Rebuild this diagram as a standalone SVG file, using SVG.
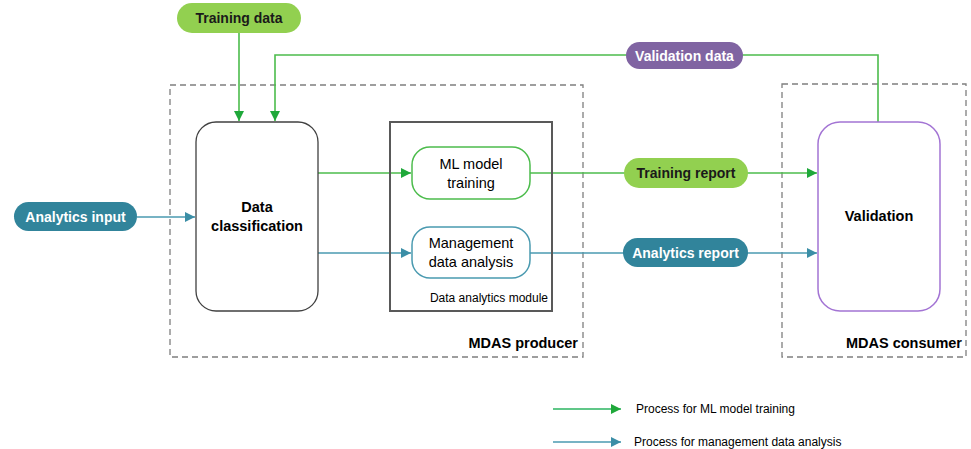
<svg xmlns="http://www.w3.org/2000/svg" width="971" height="449" viewBox="0 0 971 449">
<defs>
<marker id="ag" viewBox="0 0 10 10" refX="10" refY="5" markerWidth="10" markerHeight="10" markerUnits="userSpaceOnUse" orient="auto"><path d="M0,0 L10,5 L0,10 z" fill="#1fa83a"/></marker>
<marker id="at" viewBox="0 0 10 10" refX="10" refY="5" markerWidth="10" markerHeight="10" markerUnits="userSpaceOnUse" orient="auto"><path d="M0,0 L10,5 L0,10 z" fill="#3b8ea6"/></marker>
<style>
text{font-family:"Liberation Sans",Arial,sans-serif;}
.g{stroke:#4cbc4c;stroke-width:1.6;fill:none;}
.t{stroke:#4a9ab0;stroke-width:1.6;fill:none;}
.dash{fill:none;stroke:#7f7f7f;stroke-width:1.3;stroke-dasharray:6 4;}
.pl{font-size:14px;font-weight:bold;text-anchor:middle;}
.nd{font-size:14.5px;text-anchor:middle;fill:#000;}
.sm{font-size:12px;fill:#000;}
.lb{font-size:14.5px;font-weight:bold;text-anchor:end;fill:#000;}
</style>
</defs>
<rect width="971" height="449" fill="#fff"/>
<g id="mdas-producer"><rect class="dash" x="170" y="85" width="413" height="272"/><text class="lb" x="578" y="348">MDAS producer</text></g>
<g id="mdas-consumer"><rect class="dash" x="782" y="84" width="184" height="273"/><text class="lb" x="962" y="348">MDAS consumer</text></g>
<g id="connectors">
<path class="g" d="M239,33 V121" marker-end="url(#ag)"/>
<path class="g" d="M878,122 V55 H275 V121" marker-end="url(#ag)"/>
<path class="t" d="M137,217 H195" marker-end="url(#at)"/>
<path class="g" d="M318,173 H411" marker-end="url(#ag)"/>
<path class="t" d="M318,253 H411" marker-end="url(#at)"/>
<path class="g" d="M530,173 H817" marker-end="url(#ag)"/>
<path class="t" d="M530,253 H817" marker-end="url(#at)"/>
</g>
<g id="training-data"><rect x="177" y="3" width="124" height="30" rx="15" fill="#92d050"/><text class="pl" x="239" y="23" fill="#1a1a1a">Training data</text></g>
<g id="validation-data"><rect x="626" y="42" width="117" height="27" rx="13.5" fill="#8064a2"/><text class="pl" x="684.5" y="60.5" fill="#fff">Validation data</text></g>
<g id="analytics-input"><rect x="14" y="202" width="123" height="29" rx="14.5" fill="#31849b"/><text class="pl" x="75.5" y="221.5" fill="#fff">Analytics input</text></g>
<g id="data-classification"><rect x="196" y="122" width="122" height="189" rx="20" fill="#fff" stroke="#404040" stroke-width="1.3"/><text class="nd" x="257" y="212" font-weight="bold" font-size="14">Data</text><text class="nd" x="257" y="231" font-weight="bold" font-size="14">classification</text></g>
<g id="data-analytics-module"><rect x="390" y="122" width="162" height="189" fill="none" stroke="#595959" stroke-width="2"/><text class="sm" x="548" y="302" text-anchor="end">Data analytics module</text></g>
<g id="ml-model-training"><rect x="412" y="147" width="118" height="52" rx="18" fill="#fff" stroke="#4cbc4c" stroke-width="1.5"/><text class="nd" x="471" y="169">ML model</text><text class="nd" x="471" y="188">training</text></g>
<g id="management-data-analysis"><rect x="412" y="227" width="118" height="51" rx="18" fill="#fff" stroke="#4a9ab0" stroke-width="1.5"/><text class="nd" x="471" y="248">Management</text><text class="nd" x="471" y="267">data analysis</text></g>
<g id="training-report"><rect x="624" y="158" width="124" height="30" rx="15" fill="#92d050"/><text class="pl" x="686" y="178" fill="#1a1a1a">Training report</text></g>
<g id="analytics-report"><rect x="623" y="238" width="125" height="29" rx="14.5" fill="#31849b"/><text class="pl" x="685.5" y="257.5" fill="#fff">Analytics report</text></g>
<g id="validation"><rect x="818" y="122" width="122" height="189" rx="22" fill="#fff" stroke="#a374d4" stroke-width="1.5"/><text class="nd" x="879" y="221" font-weight="bold" font-size="15">Validation</text></g>
<g id="legend">
<path d="M553,409 H621" stroke="#2bb561" stroke-width="1.6" marker-end="url(#ag)"/>
<text class="sm" x="636" y="413">Process for ML model training</text>
<path d="M553,442 H621" stroke="#4a9ab0" stroke-width="1.6" marker-end="url(#at)"/>
<text class="sm" x="634" y="446">Process for management data analysis</text>
</g>
</svg>
